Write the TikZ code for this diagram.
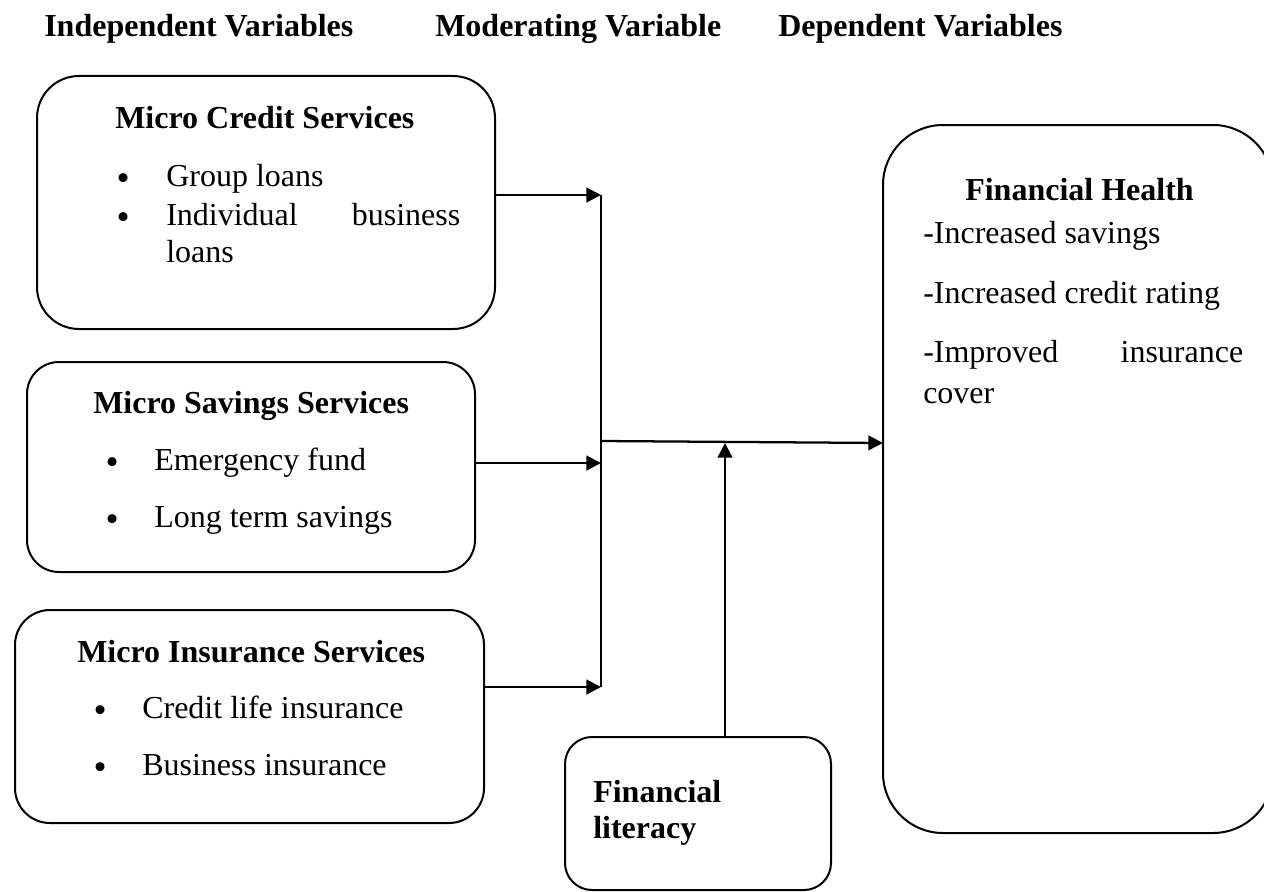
\documentclass[tikz,border=0pt]{standalone}
\usepackage{fontspec}
\setmainfont{Liberation Serif}
\newfontfamily\dotfont{DejaVu Sans}
\usetikzlibrary{arrows.meta}
\begin{document}
\begin{tikzpicture}[x=0.75pt,y=-0.75pt,
  box/.style={draw, line width=1.5pt, inner sep=0pt, outer sep=0pt, anchor=north west},
  txt/.style={anchor=base west, inner sep=0pt, font=\fontsize{24}{28}\selectfont},
  head/.style={anchor=base west, inner sep=0pt, font=\fontsize{24}{28}\selectfont\bfseries},
  dot/.style={anchor=base, inner sep=0pt, font=\dotfont\fontsize{23}{26}\selectfont},
  link/.style={line width=1.7pt},
  arr/.style={link, -{Triangle[length=11pt,width=11pt]}}]
\clip (0,0) rectangle (1264,892);

% column headings
\node[head] (h1) at (44,37) {Independent Variables};
\node[head] (h2) at (435,37) {Moderating Variable};
\node[head] (h3) at (778,37) {Dependent Variables};

% micro credit
\node[box, minimum width=343.5pt, minimum height=189.75pt, rounded corners=31.5pt] (credit) at (37,76) {};
\node[head] (credit-t) at (115,128) {Micro Credit Services};
\node[dot] (c1b) at (124,189) {•};
\node[txt] (c1) at (166,186) {Group loans};
\node[dot] (c2b) at (124,228) {•};
\node[txt] (c2) at (166,225) {\hbox to 220.5pt{Individual\hfill business}};
\node[txt] (c3) at (166,262) {loans};

% micro savings
\node[box, minimum width=336pt, minimum height=157.5pt, rounded corners=24pt] (savings) at (27,362) {};
\node[head] (savings-t) at (93,413) {Micro Savings Services};
\node[dot] (s1b) at (113,473) {•};
\node[txt] (s1) at (154,470) {Emergency fund};
\node[dot] (s2b) at (113,530) {•};
\node[txt] (s2) at (154,527) {Long term savings};

% micro insurance
\node[box, minimum width=351.75pt, minimum height=159.75pt, rounded corners=26.25pt] (insurance) at (15,610) {};
\node[head] (insurance-t) at (77,662) {Micro Insurance Services};
\node[dot] (i1b) at (101,721) {•};
\node[txt] (i1) at (142,718) {Credit life insurance};
\node[dot] (i2b) at (101,778) {•};
\node[txt] (i2) at (142,775) {Business insurance};

% moderator
\node[box, minimum width=199.5pt, minimum height=114.75pt, rounded corners=20.25pt] (literacy) at (565,737) {};
\node[head] (lit1) at (593,802) {Financial};
\node[head] (lit2) at (593,838) {literacy};

% outcome
\node[box, minimum width=292.5pt, minimum height=531pt, rounded corners=45pt] (health) at (883,125) {};
\node[head] (health-t) at (965,200) {Financial Health};
\node[txt] (f1) at (923,243) {-Increased savings};
\node[txt] (f2) at (923,303) {-Increased credit rating};
\node[txt] (f3) at (923,362) {\hbox to 240pt{-Improved\hfill insurance}};
\node[txt] (f4) at (923,403) {cover};

% connectors
\coordinate (j1) at (601,195);
\coordinate (j2) at (601,463);
\coordinate (j3) at (601,687);
\coordinate (m1) at (601,441);
\coordinate (m2) at (725,443);
\coordinate (m3) at (800,443);
\draw[link] (j1) -- (j3);
\draw[arr] (credit.east |- j1) -- (j1);
\draw[arr] (savings.east |- j2) -- (j2);
\draw[arr] (insurance.east |- j3) -- (j3);
\draw[arr] (m1) -- (health.west |- m3);
\draw[arr] (literacy.north -| m2) -- (m2);
\end{tikzpicture}
\end{document}
